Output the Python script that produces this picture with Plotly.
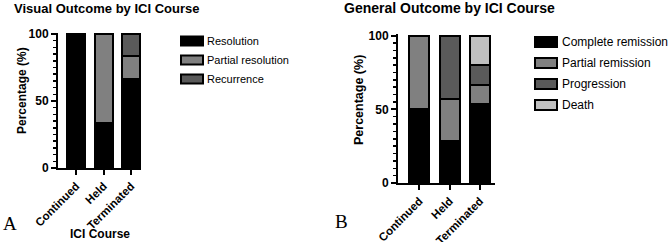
import plotly.graph_objects as go

# ---- data ----
courses = ["Continued", "Held", "Terminated"]

visual_names = ["Resolution", "Partial resolution", "Recurrence"]
visual_resolution = [100.0, 33.3, 66.7]
visual_partial = [0.0, 66.7, 16.7]
visual_recurrence = [0.0, 0.0, 16.6]

general_names = ["Complete remission", "Partial remission", "Progression", "Death"]
general_complete = [50.0, 28.6, 53.3]
general_partial = [50.0, 28.6, 13.3]
general_progression = [0.0, 42.8, 13.4]
general_death = [0.0, 0.0, 20.0]

visual_colors = ["#000000", "#808080", "#5a5a5a"]
general_colors = ["#000000", "#808080", "#5a5a5a", "#c0c0c0"]

W, H = 669, 242
FONT = "Liberation Sans"

fig = go.Figure()

for name, vals, col in zip(visual_names,
                           [visual_resolution, visual_partial, visual_recurrence],
                           visual_colors):
    fig.add_trace(go.Bar(x=courses, y=vals, name=name, xaxis="x", yaxis="y",
                         marker=dict(color=col, line=dict(color="black", width=2)),
                         width=0.65, showlegend=False))

for name, vals, col in zip(general_names,
                           [general_complete, general_partial, general_progression, general_death],
                           general_colors):
    fig.add_trace(go.Bar(x=courses, y=vals, name=name, xaxis="x2", yaxis="y2",
                         marker=dict(color=col, line=dict(color="black", width=2)),
                         width=0.66, showlegend=False))

def px_x(p):
    return p / W

def px_y(p):
    return 1 - p / H

ycommon = dict(range=[0, 101], tickvals=[0, 50, 100], ticks="outside", ticklen=5,
               tickwidth=2, tickcolor="black", showline=True, linecolor="black",
               linewidth=2, showgrid=False, zeroline=False, automargin=False,
               tickfont=dict(family=FONT, size=12, color="black", weight="bold"),
               minor=dict(dtick=5, ticks="outside", ticklen=3, tickwidth=1.5,
                          tickcolor="black", showgrid=False),
               fixedrange=True)
xcommon = dict(type="category", ticks="outside", ticklen=5, tickwidth=2,
               tickcolor="black", showline=True, linecolor="black", linewidth=2,
               showgrid=False, tickangle=-45, automargin=False,
               tickfont=dict(family=FONT, size=11.5, color="black", weight="bold"))

fig.update_layout(
    width=W, height=H, margin=dict(l=0, r=0, t=0, b=0),
    paper_bgcolor="white", plot_bgcolor="white", barmode="stack",
    showlegend=False,
    xaxis=dict(domain=[px_x(58), px_x(141)], range=[-0.66, 2.36], anchor="y", **xcommon),
    yaxis=dict(domain=[px_y(168), px_y(32.66)], anchor="x", **ycommon),
    xaxis2=dict(domain=[px_x(398), px_x(495)], range=[-0.71, 2.5], anchor="y2", **xcommon),
    yaxis2=dict(domain=[px_y(183), px_y(34.2)], anchor="x2", **ycommon),
)

ann = []
shapes = []
bold = dict(family=FONT, size=13, color="black", weight="bold")
ann.append(dict(text="Visual Outcome by ICI Course", x=px_x(12), y=px_y(9), xref="paper", yref="paper",
                xanchor="left", yanchor="middle", showarrow=False, font=bold))
ann.append(dict(text="General Outcome by ICI Course", x=px_x(342), y=px_y(8), xref="paper", yref="paper",
                xanchor="left", yanchor="middle", showarrow=False, font=dict(bold, size=14)))
ann.append(dict(text="Percentage (%)", x=px_x(22), y=px_y(91), xref="paper", yref="paper",
                xanchor="center", yanchor="middle", textangle=-90, showarrow=False,
                font=dict(family=FONT, size=12, color="black", weight="bold")))
ann.append(dict(text="Percentage (%)", x=px_x(359), y=px_y(100), xref="paper", yref="paper",
                xanchor="center", yanchor="middle", textangle=-90, showarrow=False,
                font=dict(family=FONT, size=12.5, color="black", weight="bold")))
ann.append(dict(text="ICI Course", x=px_x(100), y=px_y(234), xref="paper", yref="paper",
                xanchor="center", yanchor="middle", showarrow=False,
                font=dict(family=FONT, size=12, color="black", weight="bold")))
ann.append(dict(text="A", x=px_x(1), y=px_y(223), xref="paper", yref="paper",
                xanchor="left", yanchor="middle", showarrow=False,
                font=dict(family="Liberation Serif", size=19, color="black")))
ann.append(dict(text="B", x=px_x(333), y=px_y(221), xref="paper", yref="paper",
                xanchor="left", yanchor="middle", showarrow=False,
                font=dict(family="Liberation Serif", size=19, color="black")))

# legends
for i, (name, col) in enumerate(zip(visual_names, visual_colors)):
    cy = 41 + 19 * i
    shapes.append(dict(type="rect", xref="paper", yref="paper",
                       x0=px_x(181), x1=px_x(203), y0=px_y(cy - 4.5), y1=px_y(cy + 4.5),
                       fillcolor=col, line=dict(color="black", width=2)))
    ann.append(dict(text=name, x=px_x(205), y=px_y(cy), xref="paper", yref="paper",
                    xanchor="left", yanchor="middle", showarrow=False,
                    font=dict(family=FONT, size=11, color="black")))
for i, (name, col) in enumerate(zip(general_names, general_colors)):
    cy = 42 + 21 * i
    shapes.append(dict(type="rect", xref="paper", yref="paper",
                       x0=px_x(535), x1=px_x(557), y0=px_y(cy - 5), y1=px_y(cy + 5),
                       fillcolor=col, line=dict(color="black", width=2)))
    ann.append(dict(text=name, x=px_x(560), y=px_y(cy), xref="paper", yref="paper",
                    xanchor="left", yanchor="middle", showarrow=False,
                    font=dict(family=FONT, size=12, color="black")))

fig.update_layout(annotations=ann, shapes=shapes)
fig.write_html("out.html", config={"displayModeBar": False, "staticPlot": True},
               post_script="document.body.style.margin='0';document.body.style.overflow='hidden';")
